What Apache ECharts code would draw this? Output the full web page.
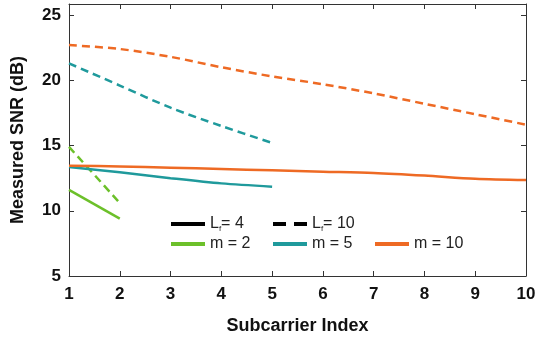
<!DOCTYPE html>
<html>
<head>
  <meta charset="UTF-8">
  <title>Measured SNR vs Subcarrier Index</title>
  <script src="https://cdn.jsdelivr.net/npm/echarts@6/dist/echarts.min.js"></script>
  <style>
    html, body { margin: 0; padding: 0; background: #fff; }
    #chart { width: 539px; height: 340px; }
  </style>
</head>
<body>
  <div id="chart"></div>
  <script>
    // data
    var xTicks = [1, 2, 3, 4, 5, 6, 7, 8, 9, 10];
    var yTicks = [5, 10, 15, 20, 25];

    var m2_L4 = [[1, 11.6], [2, 9.4]];
    var m2_L10 = [[1, 14.9], [2, 10.6]];
    var m5_L4 = [[1, 13.35], [2, 12.95], [3, 12.5], [4, 12.1], [5, 11.85]];
    var m5_L10 = [[1, 21.3], [2, 19.6], [3, 17.9], [4, 16.5], [5, 15.2]];
    var m10_L4 = [[1, 13.45], [2, 13.4], [3, 13.3], [4, 13.2], [5, 13.1], [6, 13.0], [7, 12.9], [8, 12.7], [9, 12.45], [10, 12.35]];
    var m10_L10 = [[1, 22.7], [2, 22.4], [3, 21.8], [4, 21.0], [5, 20.3], [6, 19.7], [7, 19.0], [8, 18.2], [9, 17.4], [10, 16.6]];

    var green = '#6cc02a', teal = '#1f9a9c', orange = '#ee6a24';
    var dash = [8, 5];

    var chart = echarts.init(document.getElementById('chart'));

    function line(name, data, color, dashed) {
      return {
        name: name, type: 'line', data: data,
        showSymbol: false, symbol: 'none', smooth: 0.3,
        xAxisIndex: 0, yAxisIndex: 0,
        lineStyle: { color: color, width: 2.5, type: dashed ? dash : 'solid' },
        itemStyle: { color: color },
        z: 3
      };
    }
    // empty series only for legend entries
    function key(name, color, dashed) {
      return {
        name: name, type: 'line', data: [], symbol: 'none', showSymbol: false,
        lineStyle: { color: color, width: 4, type: dashed ? [13, 8] : 'solid' },
        itemStyle: { color: color }
      };
    }
    var legendText = {
      fontFamily: 'Liberation Sans', fontSize: 16, color: '#222',
      rich: {
        a: { fontFamily: 'Liberation Sans', fontSize: 16, color: '#222' },
        s: { fontFamily: 'Liberation Sans', fontSize: 8, color: '#222', padding: [10, 0, 0, 0] }
      }
    };
    function leg(name, left, top) {
      return {
        data: [name], left: left, top: top, itemWidth: 34, itemHeight: 12, itemGap: 0,
        padding: 0, textStyle: legendText, selectedMode: false,
        itemStyle: { opacity: 0 },
        lineStyle: { width: 4 },
        formatter: function (n) {
          if (n === 'Lf4') return '{a|L}{s|f}{a|= 4}';
          if (n === 'Lf10') return '{a|L}{s|f}{a|= 10}';
          return n;
        }
      };
    }

    var axisLine = { show: true, lineStyle: { color: '#333', width: 1 } };
    var tickIn = { show: true, inside: true, length: 5, lineStyle: { color: '#333' } };
    var labelStyle = { fontFamily: 'Liberation Sans', fontWeight: 'bold', fontSize: 17, color: '#111' };
    var nameStyle = { fontFamily: 'Liberation Sans', fontWeight: 'bold', fontSize: 18, color: '#111' };

    chart.setOption({
      animation: false,
      grid: { left: 69, right: 13, top: 4, bottom: 64 },
      legend: [
        leg('Lf4', 169, 216),
        leg('Lf10', 271, 216),
        leg('m = 2', 169, 236),
        leg('m = 5', 271, 236),
        leg('m = 10', 373, 236)
      ],
      xAxis: [{
        type: 'value', min: 1, max: 10, interval: 1,
        name: 'Subcarrier Index', nameLocation: 'middle', nameGap: 41,
        nameTextStyle: nameStyle,
        axisLine: axisLine, axisTick: tickIn, splitLine: { show: false },
        axisLabel: Object.assign({ margin: 10 }, labelStyle)
      }, {
        type: 'value', min: 1, max: 10, interval: 1, position: 'top',
        axisLine: axisLine, axisTick: tickIn, axisLabel: { show: false }, splitLine: { show: false }
      }],
      yAxis: [{
        type: 'value', min: 5, max: 25.85, interval: 5,
        name: 'Measured SNR (dB)', nameLocation: 'middle', nameGap: 42,
        nameTextStyle: nameStyle,
        axisLine: axisLine, axisTick: tickIn, splitLine: { show: false },
        axisLabel: Object.assign({ margin: 8, showMaxLabel: false }, labelStyle)
      }, {
        type: 'value', min: 5, max: 25.85, interval: 5, position: 'right',
        axisLine: axisLine, axisTick: tickIn, axisLabel: { show: false }, splitLine: { show: false }
      }],
      series: [
        line('m2 L4', m2_L4, green, false),
        line('m2 L10', m2_L10, green, true),
        line('m5 L4', m5_L4, teal, false),
        line('m5 L10', m5_L10, teal, true),
        line('m10 L4', m10_L4, orange, false),
        line('m10 L10', m10_L10, orange, true),
        key('Lf4', '#000', false),
        key('Lf10', '#000', true),
        key('m = 2', green, false),
        key('m = 5', teal, false),
        key('m = 10', orange, false)
      ]
    });
  </script>
</body>
</html>
